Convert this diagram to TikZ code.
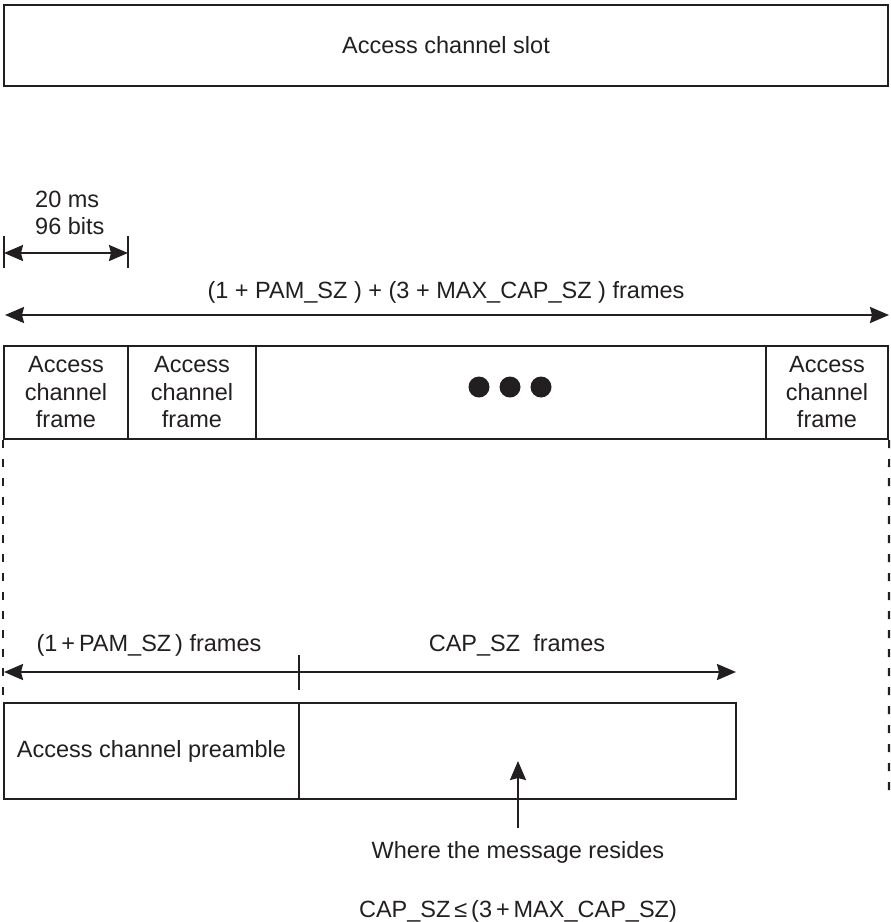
\documentclass[tikz,border=0pt]{standalone}
\usepackage{fontspec}
\setmainfont{Liberation Sans}
\usetikzlibrary{arrows.meta,calc}
\definecolor{ink}{RGB}{35,31,32}
\tikzset{
  dim/.style={draw=ink,line width=2.2pt,-{Stealth[length=19pt,width=16pt,inset=2pt]}},
  dimboth/.style={draw=ink,line width=2.2pt,{Stealth[length=19pt,width=16pt,inset=2pt]}-{Stealth[length=19pt,width=16pt,inset=2pt]}}
}
\begin{document}
\begin{tikzpicture}[x=1pt,y=-1pt,
  every node/.style={text=ink,font=\fontsize{23.5}{27.5}\selectfont},
  box/.style={draw=ink,line width=2.2pt,inner sep=0pt,align=center},
  lbl/.style={inner sep=0pt,anchor=base},
  tick/.style={draw=ink,line width=2.2pt},
  guide/.style={draw=ink,line width=2.2pt,dash pattern=on 8pt off 11pt}]
\useasboundingbox (0,0) rectangle (891,922);

% access channel slot
\node[box,minimum width=884pt,minimum height=81pt] (slot) at (446,45.5) {Access channel slot};

% one frame: 20 ms / 96 bits
\node[lbl,anchor=base west] (ms) at (35,207) {20 ms};
\node[lbl,anchor=base west] (bits) at (35,234) {96 bits};
\coordinate (fa1) at (4,236);  \coordinate (fa2) at (4,268);
\coordinate (fb1) at (128,236); \coordinate (fb2) at (128,268);
\coordinate (fl) at (4,253);   \coordinate (fr) at (128,253);
\draw[tick] (fa1) -- (fa2);
\draw[tick] (fb1) -- (fb2);
\draw[dimboth] (fl) -- (fr);

% whole slot length
\node[lbl] (total) at (446,298) {(1 + PAM\_SZ ) + (3 + MAX\_CAP\_SZ ) frames};
\coordinate (tl) at (5,315); \coordinate (tr) at (889,315);
\draw[dimboth] (tl) -- (tr);

% access channel frames
\node[box,minimum width=124pt,minimum height=93pt] (f1) at (66,392.5) {Access\\channel\\frame};
\node[box,minimum width=128pt,minimum height=93pt] (f2) at (192,392.5) {Access\\channel\\frame};
\node[box,minimum width=510pt,minimum height=93pt] (fdots) at (511,392.5) {};
\node[box,minimum width=122pt,minimum height=93pt] (fN) at (827,392.5) {Access\\channel\\frame};
\foreach \dx in {-32,-1,30}
  \fill[ink] ($(fdots.center)+(\dx,-5.5)$) circle[radius=10.5pt];

% preamble and capsule
\node[box,minimum width=295pt,minimum height=96pt] (pre) at (151.5,751) {Access channel preamble};
\node[box,minimum width=437pt,minimum height=96pt] (msg) at (517.5,751) {};

% guide lines
\coordinate (gr) at (889,798);
\draw[guide] (f1.south west) -- (pre.north west);
\draw[guide] (fN.south east) -- (gr);

% preamble / capsule lengths
\coordinate (pl) at (4,672); \coordinate (pm) at (299,672); \coordinate (pr) at (736,672);
\coordinate (pt1) at (299,655); \coordinate (pt2) at (299,690);
\draw[tick] (pt1) -- (pt2);
\draw[dim] (pm) -- (pl);
\draw[dim] (pm) -- (pr);
\node[lbl] (pamlbl) at (149,651) {(1\,+\,PAM\_SZ\,) frames};
\node[lbl] (caplbl) at (517,651) {CAP\_SZ\ \ frames};

% message pointer
\node[lbl] (where) at (518,858) {Where the message resides};
\coordinate (mt) at (518,828); \coordinate (mh) at (518,761);
\draw[dim] (mt) -- (mh);

\node[lbl] (cond) at (518,917) {CAP\_SZ\,≤\,(3\,+\,MAX\_CAP\_SZ)};
\end{tikzpicture}
\end{document}
